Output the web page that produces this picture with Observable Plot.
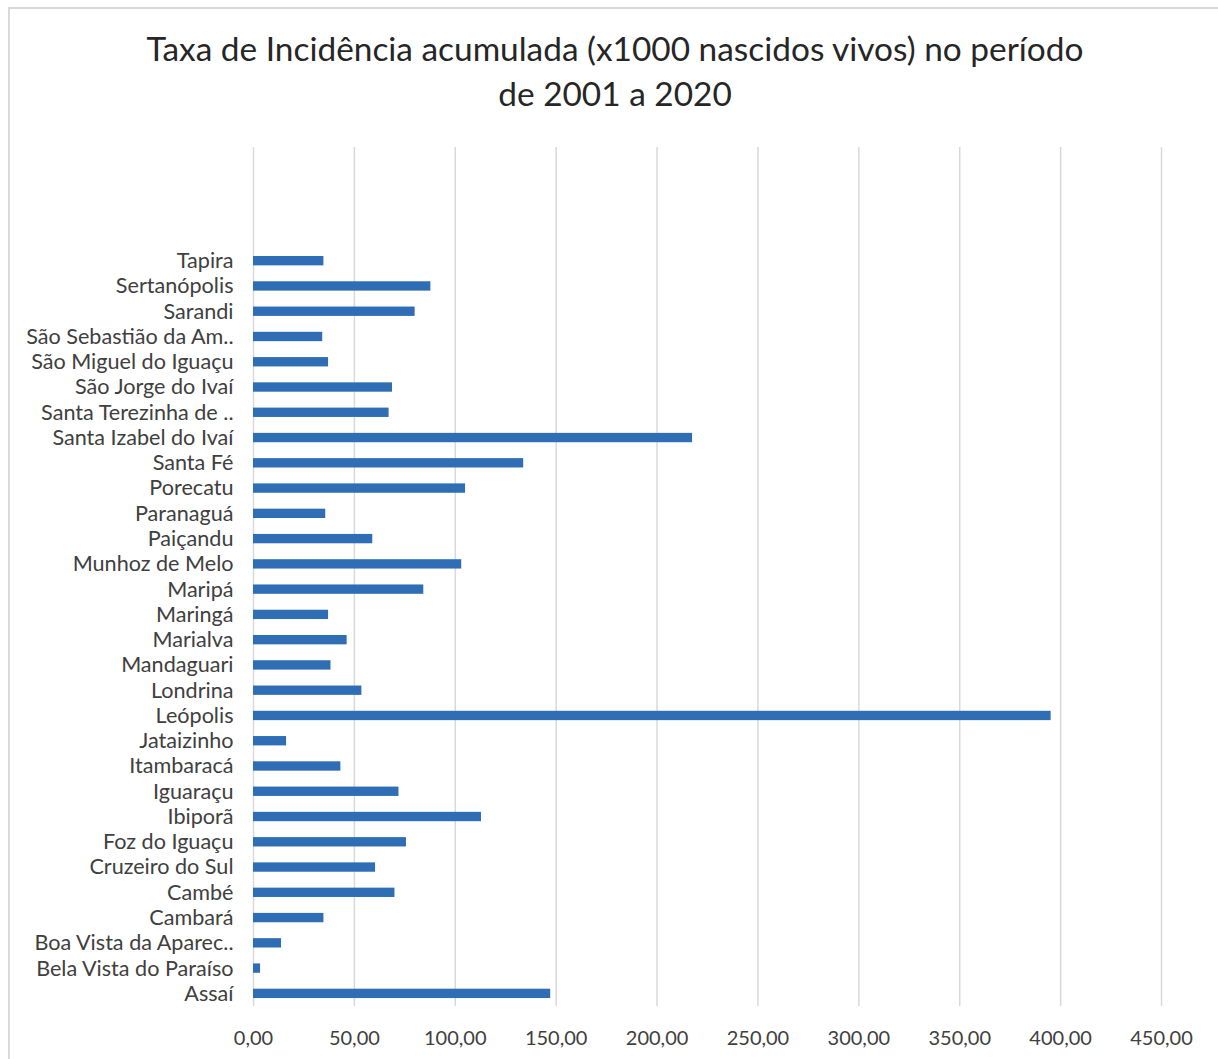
<!DOCTYPE html>
<html><head><meta charset="utf-8">
<script src="https://cdn.jsdelivr.net/npm/d3@7"></script>
<script src="https://cdn.jsdelivr.net/npm/@observablehq/plot@0.6"></script>
<style>
body{margin:0;background:#fff;overflow:hidden;}
#wrap{position:relative;width:1218px;height:1059px;overflow:hidden;font-family:Lato,sans-serif;background:#fff;}
#border{position:absolute;left:8px;top:7px;width:1400px;height:1400px;border:2px solid #d9d9d9;box-sizing:border-box;}
#title{position:absolute;left:0;top:0;width:1230px;text-align:center;color:#262626;font-size:33.4px;}
#title div{height:45px;line-height:45px;}
#chart{position:absolute;left:0;top:130px;}
</style></head>
<body>
<div id="wrap">
  <div id="border"></div>
  <div id="title"><div style="margin-top:26px">Taxa de Incidência acumulada (x1000 nascidos vivos) no período</div><div>de 2001 a 2020</div></div>
  <div id="chart"></div>
</div>
<script>
const categories = ["Assaí","Bela Vista do Paraíso","Boa Vista da Aparec..","Cambará","Cambé","Cruzeiro do Sul","Foz do Iguaçu","Ibiporã","Iguaraçu","Itambaracá","Jataizinho","Leópolis","Londrina","Mandaguari","Marialva","Maringá","Maripá","Munhoz de Melo","Paiçandu","Paranaguá","Porecatu","Santa Fé","Santa Izabel do Ivaí","Santa Terezinha de ..","São Jorge do Ivaí","São Miguel do Iguaçu","São Sebastião da Am..","Sarandi","Sertanópolis","Tapira"];
const values = [147.3,3.5,13.9,34.9,70.1,60.5,75.8,113.0,72.1,43.3,16.4,395.3,53.7,38.4,46.4,37.2,84.4,103.2,59.1,35.8,105.1,133.9,217.6,67.2,68.9,37.2,34.3,80.1,87.9,34.9];
const xTicks = [0,50,100,150,200,250,300,350,400,450];

const H = 929, mTop = 17, mBottom = 53;
const frameH = H - mTop - mBottom;
const step = frameH / 34;

const chart = Plot.plot({
  width: 1218,
  height: H,
  marginTop: mTop,
  marginBottom: mBottom,
  marginLeft: 253,
  marginRight: 57,
  style: {fontFamily: "Lato, sans-serif", fontSize: "20px", color: "#404040", background: "transparent"},
  x: {domain: [0, 450]},
  y: {domain: categories.slice().reverse(), paddingInner: 0.63, paddingOuter: 0.315, insetTop: step * 4, round: false},
  marks: [
    Plot.gridX(xTicks, {stroke: "#d9d9d9", strokeOpacity: 1, strokeWidth: 1.5}),
    Plot.barX(categories, {x: values, y: categories, fill: "#2f6db5"}),
    Plot.axisX(xTicks, {tickSize: 0, tickPadding: 24, tickFormat: d => d.toFixed(2).replace(".", ","), label: null, fontSize: 20}),
    Plot.axisY({tickSize: 0, tickPadding: 20, label: null, fontSize: 21.6})
  ]
});
document.getElementById("chart").appendChild(chart);
</script>
</body></html>
